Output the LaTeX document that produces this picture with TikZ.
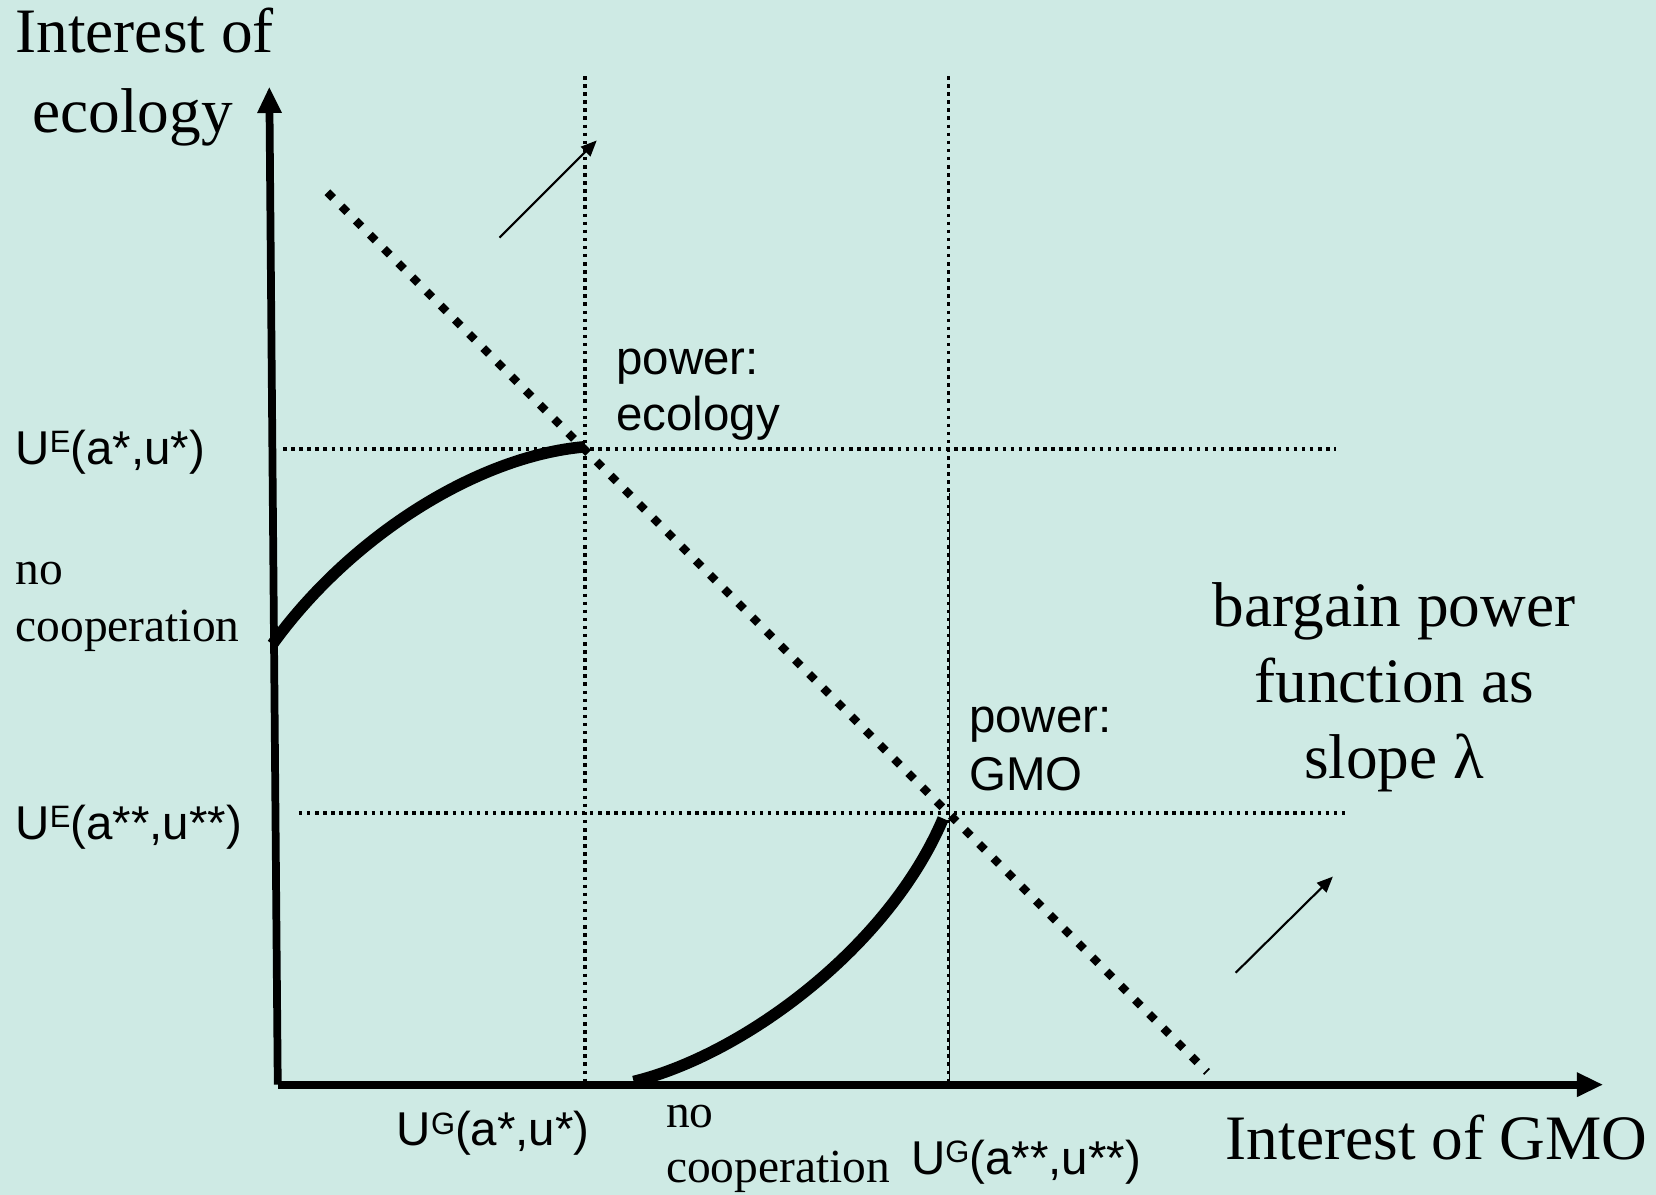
\documentclass[tikz,border=0pt]{standalone}
\usepackage{fontspec}
\setmainfont{Liberation Serif}
\setsansfont{Liberation Sans}
\usetikzlibrary{arrows.meta}
\definecolor{bgteal}{RGB}{206,234,228}
\newcommand{\upidx}[1]{\raisebox{0.25em}{\fontsize{8.8}{9}\selectfont #1}}

\begin{document}
\begin{tikzpicture}[x=0.01056cm, y=-0.01056cm,
  axis/.style={line width=2.2pt, -{Triangle[length=7.5pt,width=6.5pt]}},
  guide/.style={line width=1pt, dash pattern=on 1pt off 1.3pt},
  slopeline/.style={line width=2.3pt, dash pattern=on 2.3pt off 3.4pt},
  frontier/.style={line width=3.3pt},
  shiftarrow/.style={line width=0.6pt, -{Triangle[length=4.5pt,width=3.8pt]}},
  bigtxt/.style={font=\fontsize{18}{21.6}\selectfont, inner sep=0pt},
  smalltxt/.style={font=\fontsize{13.5}{16}\selectfont, inner sep=0pt},
  sanstxt/.style={font=\sffamily\fontsize{13.5}{16}\selectfont, inner sep=0pt}]
  % Background
  \fill[bgteal] (0,0) rectangle (1568,1131);
  % Key points
  \coordinate (origin) at (263,1027);
  \coordinate (ytip) at (255,82);
  \coordinate (xtip) at (1518,1027);
  \coordinate (ncE) at (258,610);
  \coordinate (ptE) at (554,423);
  \coordinate (ncG) at (600,1024);
  \coordinate (ptG) at (893,775);
  % Guide lines
  \draw[guide] (554,72) -- (554,1027);
  \draw[guide] (898,72) -- (898,1027);
  \draw[line width=0.5pt] (899,467) -- (899,1027);
  \draw[guide] (268,425) -- (1265,425);
  \draw[guide] (283,770) -- (1278,770);
  % Bargain power line
  \draw[slopeline] (310,182) -- (1143,1015);
  % Frontiers
  \draw[frontier] (ncE) .. controls (330,510) and (450,432) .. (ptE);
  \draw[frontier] (ncG) .. controls (700,1000) and (840,900) .. (ptG);
  % Axes
  \draw[axis] (origin) -- (ytip);
  \draw[axis] (origin) -- (xtip);
  % Shift arrows
  \coordinate (s1a) at (473,225);
  \coordinate (s1b) at (565,133);
  \coordinate (s2a) at (1170,921);
  \coordinate (s2b) at (1262,830);
  \draw[shiftarrow] (s1a) -- (s1b);
  \draw[shiftarrow] (s2a) -- (s2b);
  % Axis titles
  \node[bigtxt, anchor=base west] (yt1) at (14,50) {Interest of};
  \node[bigtxt, anchor=base west] (yt2) at (30,125) {ecology};
  \node[bigtxt, anchor=base west] (xt) at (1160,1098) {Interest of GMO};
  % Vertical axis labels
  \node[sanstxt, anchor=base west] (ue1) at (14,440) {U\upidx{E}(a*,u*)};
  \node[smalltxt, anchor=base west] (nce1) at (14,553) {no};
  \node[smalltxt, anchor=base west] (nce2) at (14,607) {cooperation};
  \node[sanstxt, anchor=base west] (ue2) at (14,795) {U\upidx{E}(a**,u**)};
  % Horizontal axis labels
  \node[sanstxt, anchor=base west] (ug1) at (375,1085) {U\upidx{G}(a*,u*)};
  \node[smalltxt, anchor=base west] (ncg1) at (630,1068) {no};
  \node[smalltxt, anchor=base west] (ncg2) at (630,1120) {cooperation};
  \node[sanstxt, anchor=base west] (ug2) at (862,1112) {U\upidx{G}(a**,u**)};
  % Power labels
  \node[sanstxt, anchor=base west] (pe1) at (583,355) {power:};
  \node[sanstxt, anchor=base west] (pe2) at (583,408) {ecology};
  \node[sanstxt, anchor=base west] (pg1) at (917,694) {power:};
  \node[sanstxt, anchor=base west] (pg2) at (917,748) {GMO};
  % Slope note
  \node[bigtxt, anchor=base] (bp1) at (1320,593) {bargain power};
  \node[bigtxt, anchor=base] (bp2) at (1320,665) {function as};
  \node[bigtxt, anchor=base] (bp3) at (1320,737) {slope λ};
\end{tikzpicture}
\end{document}
